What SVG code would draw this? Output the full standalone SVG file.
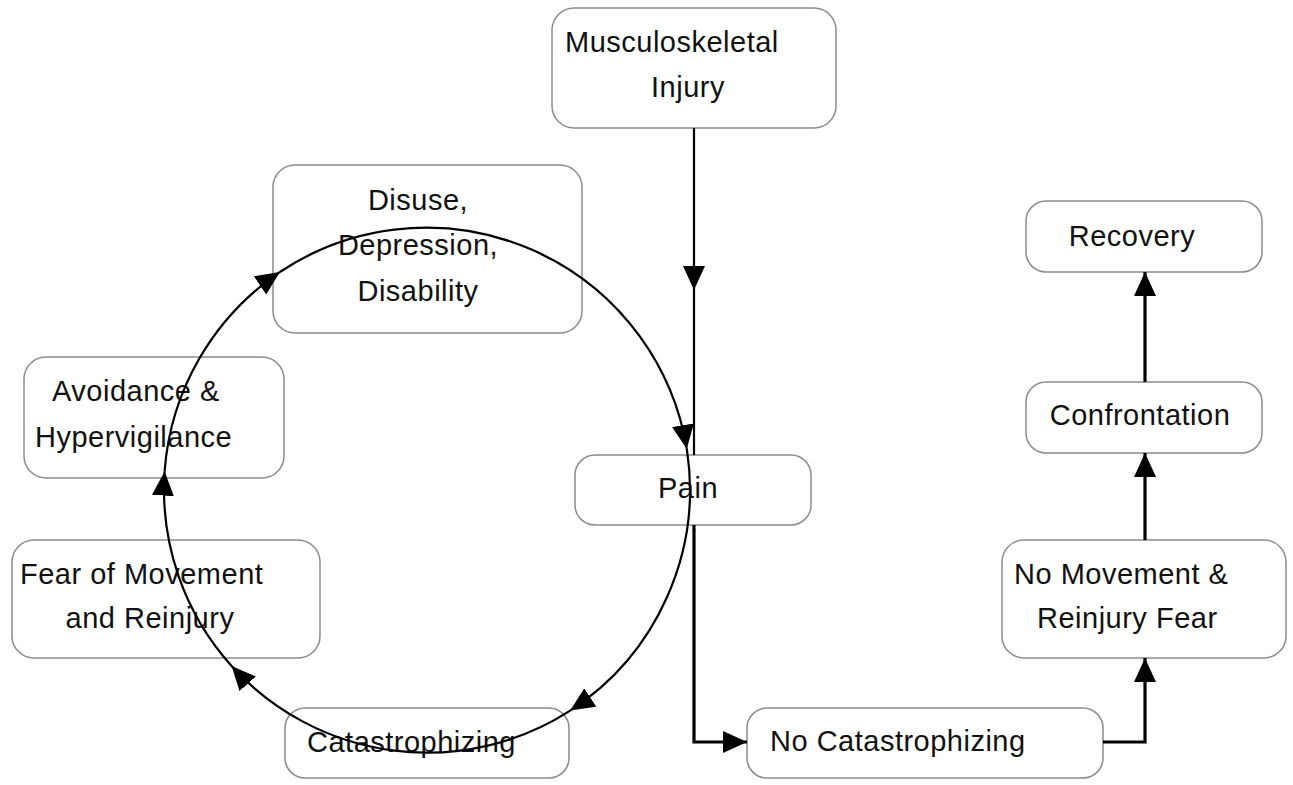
<svg xmlns="http://www.w3.org/2000/svg" width="1293" height="785" viewBox="0 0 1293 785">
<defs>
<style>
.box{fill:#fff;stroke:#8c8c8c;stroke-width:1.5}
.t{font-family:"Liberation Sans",Arial,sans-serif;font-size:29px;letter-spacing:0.5px;fill:#111}
.c{fill:none;stroke:#000;stroke-width:2.2}
.k{fill:none;stroke:#000;stroke-width:3.2}
</style>
<marker id="ahb" viewBox="0 0 24 22" refX="24" refY="11" markerWidth="24" markerHeight="22" markerUnits="userSpaceOnUse" orient="auto">
<path d="M0,0 L24,11 L0,22 Z" fill="#000"/>
</marker>
</defs>
<rect width="1293" height="785" fill="#fff"/>
<g id="n-injury"><rect class="box" x="552" y="8" width="284" height="120" rx="22"/><text class="t" x="565" y="52">Musculoskeletal</text><text class="t" x="688" y="97" text-anchor="middle">Injury</text></g>
<g id="n-disuse"><rect class="box" x="273" y="165" width="309" height="168" rx="22"/><text class="t" x="418" y="210" text-anchor="middle">Disuse,</text><text class="t" x="418" y="255" text-anchor="middle">Depression,</text><text class="t" x="418" y="301" text-anchor="middle">Disability</text></g>
<g id="n-recovery"><rect class="box" x="1026" y="201" width="236" height="71" rx="20"/><text class="t" x="1132" y="246" text-anchor="middle">Recovery</text></g>
<g id="n-avoid"><rect class="box" x="24" y="357" width="260" height="121" rx="22"/><text class="t" x="52" y="401">Avoidance &amp;</text><text class="t" x="35" y="447">Hypervigilance</text></g>
<g id="n-confront"><rect class="box" x="1026" y="382" width="236" height="71" rx="20"/><text class="t" x="1140" y="425" text-anchor="middle">Confrontation</text></g>
<g id="n-pain"><rect class="box" x="575" y="455" width="236" height="70" rx="20"/><text class="t" x="688" y="498" text-anchor="middle">Pain</text></g>
<g id="n-fear"><rect class="box" x="12" y="540" width="308" height="118" rx="22"/><text class="t" x="20" y="584">Fear of Movement</text><text class="t" x="150" y="628" text-anchor="middle">and Reinjury</text></g>
<g id="n-nomove"><rect class="box" x="1002" y="540" width="284" height="118" rx="22"/><text class="t" x="1014" y="584">No Movement &amp;</text><text class="t" x="1037" y="628">Reinjury Fear</text></g>
<g id="n-catas"><rect class="box" x="285" y="708" width="284" height="70" rx="20"/><text class="t" x="307" y="752">Catastrophizing</text></g>
<g id="n-nocatas"><rect class="box" x="747" y="708" width="356" height="70" rx="20"/><text class="t" x="770" y="751">No Catastrophizing</text></g>
<g id="connectors">
<path class="c" d="M694,128 L694,290 L694,455" marker-mid="url(#ahb)"/>
<path class="k" d="M694,525 L694,742 L747,742" marker-end="url(#ahb)"/>
<path class="k" d="M1103,742 L1145,742 L1145,658" marker-end="url(#ahb)"/>
<path class="k" d="M1145,540 L1145,453" marker-end="url(#ahb)"/>
<path class="k" d="M1145,382 L1145,272" marker-end="url(#ahb)"/>
<path class="c" d="M279.9,272 A264,264 0 0 1 686.8,448.9" marker-end="url(#ahb)"/>
<path class="c" d="M686.8,448.9 A264,264 0 0 1 570.2,710.6" marker-end="url(#ahb)"/>
<path class="c" d="M570.2,710.6 A264,264 0 0 1 231.6,666" marker-end="url(#ahb)"/>
<path class="c" d="M231.6,666 A264,264 0 0 1 164.6,471.6" marker-end="url(#ahb)"/>
<path class="c" d="M164.6,471.6 A264,264 0 0 1 279.9,272" marker-end="url(#ahb)"/>
</g>
</svg>
